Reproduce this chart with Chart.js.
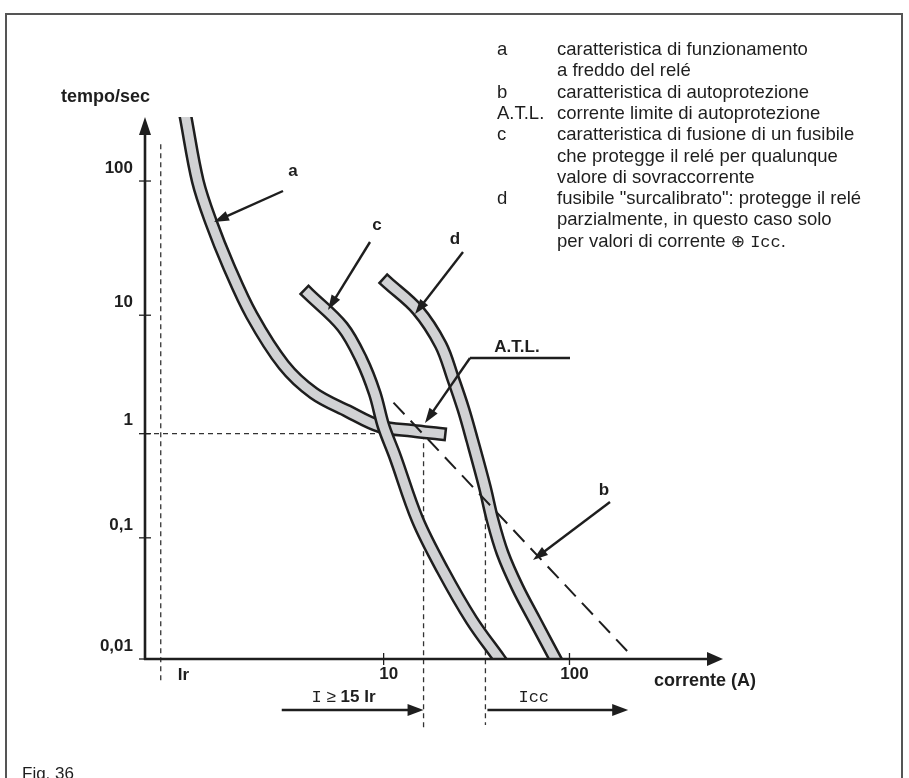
<!DOCTYPE html>
<html>
<head>
<meta charset="utf-8">
<script src="https://cdn.jsdelivr.net/npm/chart.js@4.4.1/dist/chart.umd.min.js"></script>
<style>html,body{margin:0;padding:0;background:#fff}canvas{display:block}</style>
</head>
<body>
<canvas id="chart" width="909" height="778"></canvas>
<script>
// tick values and labels
const xTickValues=[10,100];
const xTickLabels=['10','100'];
const yTickValues=[0.01,0.1,1,10,100];
const yTickLabels=['0,01','0,1','1','10','100'];

// curve a: cold operating characteristic of the relay (current A, time s)
const aCurrent=[0.86,1.0,1.175,1.47,1.95,2.9,4.2,6.4,9.6,14.3,20];
const aTime=[300,100,50,23,10,3.8,2.2,1.55,1.15,1.06,1.0];
// curve c: fuse protecting the relay for every overcurrent
const cCurrent=[3.95,6.0,7.6,8.95,10,11.5,15.2,20.8,29.7,42,46.4];
const cTime=[14.4,8.0,4.2,2.2,1.15,0.61,0.15,0.054,0.021,0.01,0.0081];
// curve d: "surcalibrato" fuse
const dCurrent=[10.5,15.2,20.3,23.5,26.9,30,35,38.5,43.6,52.5,64.9,84,90.6];
const dTime=[17.5,11,5.6,3.0,1.6,0.86,0.31,0.15,0.075,0.039,0.021,0.01,0.0081];
// curve b: self-protection characteristic (straight, dashed)
const bCurrent=[11.3,207];
const bTime=[1.83,0.0114];

// reference currents
const Ir=0.632, I15=16.4, Icc=35.3;

const ink='#1e1e1e', band='#d1d2d4';
const sans='"Liberation Sans", Arial, sans-serif';
const mono='"Liberation Mono", "Courier New", monospace';

// the drawing's time axis is hand made: decades are not all the same height
const yDecadeSpacing=[121,104,118.3,134,134];
class SchematicLog extends Chart.LogarithmicScale{
  _span(l){
    const w=yDecadeSpacing,l0=Math.log10(this.min);
    if(l<l0)return (l-l0)*w[0];
    let s=0,i=0,cur=l0;
    while(cur+1<=l+1e-9){s+=w[Math.min(i,w.length-1)];cur+=1;i++;}
    return s+(l-cur)*w[Math.min(i,w.length-1)];
  }
  getPixelForValue(v){
    if(v===undefined||v===0)v=this.min;
    if(v===null||isNaN(v))return NaN;
    return this.getPixelForDecimal(this._span(Math.log10(v))/this._span(Math.log10(this.max)));
  }
  getValueForPixel(p){
    const w=yDecadeSpacing;
    let t=this.getDecimalForPixel(p)*this._span(Math.log10(this.max)),l=Math.log10(this.min),i=0;
    if(t<0)return Math.pow(10,l+t/w[0]);
    while(t>=w[Math.min(i,w.length-1)]){t-=w[Math.min(i,w.length-1)];l+=1;i++;}
    return Math.pow(10,l+t/w[Math.min(i,w.length-1)]);
  }
}
SchematicLog.id='schematicLog';
SchematicLog.defaults=Chart.LogarithmicScale.defaults;
Chart.register(SchematicLog);

const pts=(xs,ys)=>xs.map((v,i)=>({x:v,y:ys[i]}));
const bandSets=(xs,ys,order)=>[
  {data:pts(xs,ys),borderColor:ink,borderWidth:14,borderCapStyle:'square',tension:0.35,clip:0,order:order+1},
  {data:pts(xs,ys),borderColor:band,borderWidth:9,borderCapStyle:'square',tension:0.35,clip:0,order:order}
];
const guide=(data)=>({data,borderColor:'#333',borderWidth:1.3,borderDash:[5,4],clip:false,order:30});

function arrow(ctx,x1,y1,x2,y2,len,half){
  const a=Math.atan2(y2-y1,x2-x1),c=Math.cos(a),s=Math.sin(a);
  ctx.beginPath();ctx.moveTo(x1,y1);ctx.lineTo(x2-c*len*0.7,y2-s*len*0.7);ctx.stroke();
  ctx.beginPath();ctx.moveTo(x2,y2);
  ctx.lineTo(x2-c*len+s*half,y2-s*len-c*half);
  ctx.lineTo(x2-c*len-s*half,y2-s*len+c*half);
  ctx.closePath();ctx.fill();
}
function runs(ctx,x,y,parts,align){
  let w=0;parts.forEach(([t,f])=>{ctx.font=f;w+=ctx.measureText(t).width;});
  let cx=align==='right'?x-w:x;
  parts.forEach(([t,f])=>{ctx.font=f;ctx.fillText(t,cx,y);cx+=ctx.measureText(t).width;});
}

const legendRows=[
  ['a','caratteristica di funzionamento'],
  ['','a freddo del relé'],
  ['b','caratteristica di autoprotezione'],
  ['A.T.L.','corrente limite di autoprotezione'],
  ['c','caratteristica di fusione di un fusibile'],
  ['','che protegge il relé per qualunque'],
  ['','valore di sovraccorrente'],
  ['d','fusibile "surcalibrato": protegge il relé'],
  ['','parzialmente, in questo caso solo'],
  ['','per valori di corrente ']
];

const overlay={id:'overlay',
  afterDatasetsDraw(chart){
    const {ctx,chartArea:ca,scales:{x,y}}=chart;
    ctx.save();
    ctx.strokeStyle=ink;ctx.fillStyle=ink;ctx.lineCap='butt';
    // frame
    ctx.strokeStyle='#555';ctx.lineWidth=2;ctx.strokeRect(6,14,896,820);
    ctx.strokeStyle=ink;
    // axes with arrows
    ctx.lineWidth=2.6;
    arrow(ctx,ca.left-1,ca.bottom,ca.right,ca.bottom,16,7);
    arrow(ctx,ca.left,ca.bottom+1,ca.left,ca.top,18,6);
    ctx.lineWidth=1.3;
    x.ticks.forEach(t=>{const p=x.getPixelForValue(t.value);ctx.beginPath();ctx.moveTo(p,ca.bottom-6);ctx.lineTo(p,ca.bottom+6);ctx.stroke();});
    y.ticks.forEach(t=>{const p=y.getPixelForValue(t.value);ctx.beginPath();ctx.moveTo(ca.left-6,p);ctx.lineTo(ca.left+6,p);ctx.stroke();});
    // axis titles
    ctx.textBaseline='alphabetic';ctx.textAlign='left';
    ctx.font='bold 18px '+sans;ctx.fillText('tempo/sec',61,102);
    ctx.textBaseline='middle';
    ctx.fillText('corrente (A)',654,681);
    ctx.font='bold 17px '+sans;ctx.fillText('Ir',x.getPixelForValue(Ir)+17,675);
    // curve labels and leaders
    ctx.textAlign='center';
    [['a',293,171],['c',377,225],['d',455,239],['b',604,490],['A.T.L.',517,347]].forEach(([t,px,py])=>ctx.fillText(t,px,py));
    ctx.lineWidth=2.4;
    arrow(ctx,283,191,214,222,15,5);
    arrow(ctx,370,242,328,310,15,5);
    arrow(ctx,463,252,415,314,15,5);
    arrow(ctx,610,502,533,560,15,5);
    ctx.beginPath();ctx.moveTo(570,358);ctx.lineTo(470,358);ctx.stroke();
    arrow(ctx,470,358,425,423,15,5);
    // current ranges under the axis
    const yr=ca.bottom+51;
    arrow(ctx,x.getPixelForValue(2.83),yr,x.getPixelForValue(I15),yr,16,6);
    arrow(ctx,x.getPixelForValue(Icc)+2,yr,x.getPixelForValue(207),yr,16,6);
    ctx.textAlign='left';
    runs(ctx,x.getPixelForValue(I15)-48,697,[['I','17px '+mono],[' ≥ ','17px '+sans],['15 Ir','bold 17px '+sans]],'right');
    runs(ctx,x.getPixelForValue(Icc)+33,697,[['Icc','17px '+mono]],'left');
    // legend
    ctx.textBaseline='alphabetic';
    const lf='18.5px '+sans;
    legendRows.forEach(([k,t],i)=>{
      const by=55+i*21.3;
      ctx.font=lf;ctx.fillText(k,497,by);
      if(i===legendRows.length-1)runs(ctx,557,by,[[t,lf],['⊕','17px "DejaVu Sans"'],[' ',lf],['Icc','17px '+mono],['.',lf]],'left');
      else ctx.fillText(t,557,by);
    });
    ctx.font='17px '+sans;ctx.fillText('Fig. 36',22,779);
    ctx.restore();
  }
};

new Chart(document.getElementById('chart'),{
  type:'line',
  data:{datasets:[
    guide(pts([Ir,Ir],[188,0.0063])),
    guide(pts([0.52,I15,I15],[1,1,0.00274])),
    guide(pts([Icc,Icc],[0.3,0.00285])),
    ...bandSets(aCurrent,aTime,11),
    ...bandSets(cCurrent,cTime,7),
    ...bandSets(dCurrent,dTime,5),
    {data:pts(bCurrent,bTime),borderColor:ink,borderWidth:2,borderDash:[16,9],clip:false,order:1}
  ]},
  options:{
    responsive:false,devicePixelRatio:1,animation:false,events:[],
    layout:{padding:{top:117,right:186,left:0,bottom:0}},
    elements:{point:{radius:0},line:{tension:0}},
    plugins:{legend:{display:false},tooltip:{enabled:false}},
    scales:{
      x:{type:'logarithmic',min:0.52,max:670,
        grid:{display:false,drawTicks:false},border:{display:false},
        afterBuildTicks:s=>{s.ticks=xTickValues.map(v=>({value:v}));},
        afterFit:s=>{s.height=119;},
        ticks:{padding:5,labelOffset:5,color:ink,font:{family:sans,size:17,weight:'bold'},maxRotation:0,autoSkip:false,
          callback:v=>xTickLabels[xTickValues.indexOf(v)]}},
      y:{type:'schematicLog',min:0.01,max:300,
        grid:{display:false,drawTicks:false},border:{display:false},
        afterBuildTicks:s=>{s.ticks=yTickValues.map(v=>({value:v}));},
        afterFit:s=>{s.width=145;},
        ticks:{padding:12,labelOffset:-13,color:ink,font:{family:sans,size:17,weight:'bold'},autoSkip:false,
          callback:v=>yTickLabels[yTickValues.indexOf(v)]}}
    }
  },
  plugins:[overlay]
});
</script>
</body>
</html>
